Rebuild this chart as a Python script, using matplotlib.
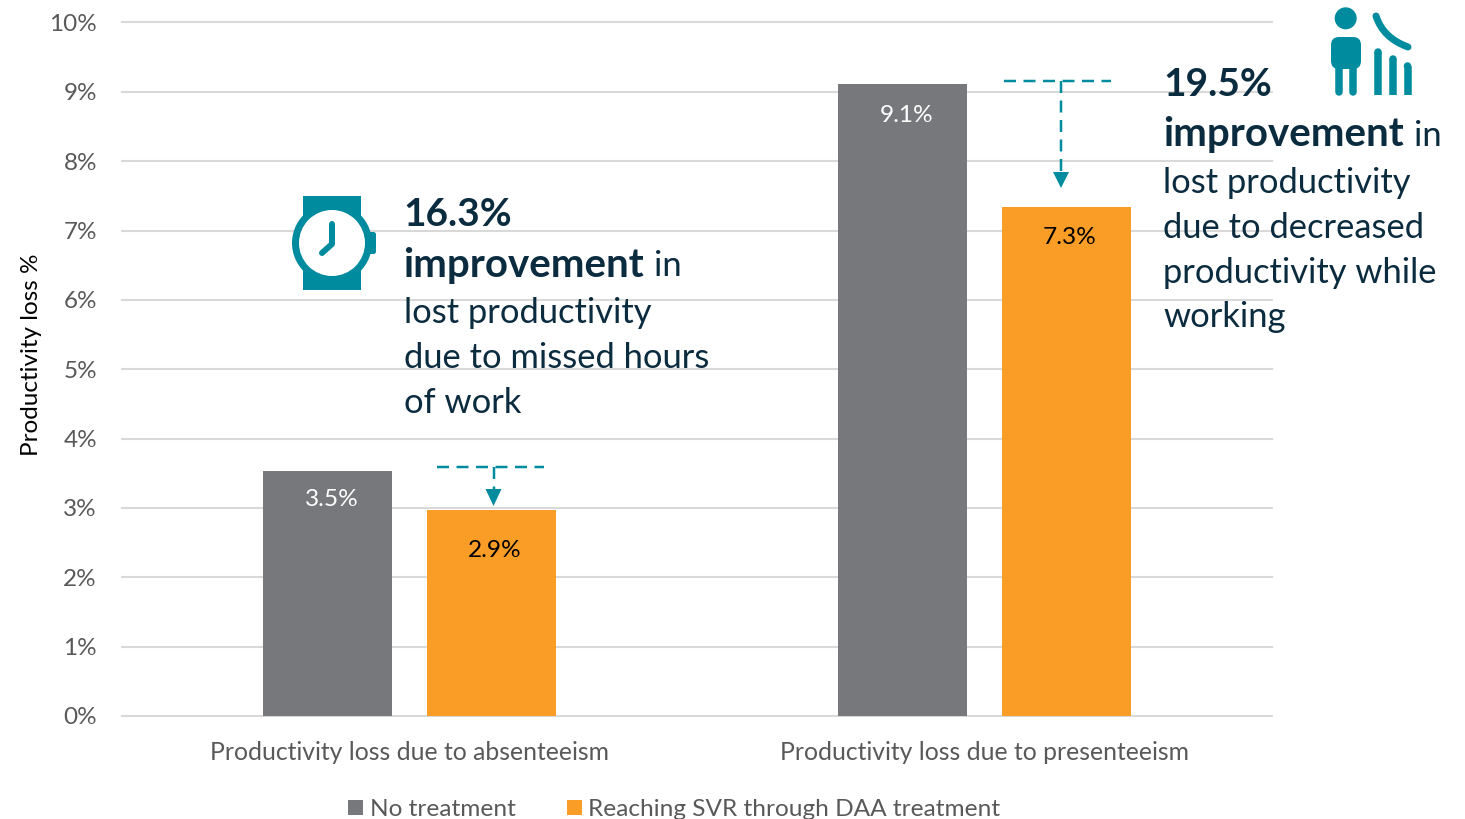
import matplotlib
matplotlib.use("Agg")
import matplotlib.pyplot as plt
import numpy as np
from matplotlib.patches import Circle, Rectangle, FancyBboxPatch, PathPatch, Polygon
from matplotlib.path import Path

# ---- data ----
categories = ["Productivity loss due to absenteeism", "Productivity loss due to presenteeism"]
series_names = ["No treatment", "Reaching SVR through DAA treatment"]
no_treatment = [3.53, 9.12]
svr_treatment = [2.97, 7.34]
no_treatment_labels = ["3.5%", "9.1%"]
svr_treatment_labels = ["2.9%", "7.3%"]
y_ticks = list(range(0, 11))
y_tick_labels = [f"{v}%" for v in y_ticks]
y_title = "Productivity loss %"

GREY, ORANGE, TEAL, INK = "#77787B", "#F99D26", "#008C9E", "#0B2B3F"
plt.rcParams["font.family"] = ["Lato", "DejaVu Sans"]

W, H = 1465, 819
fig = plt.figure(figsize=(W / 100, H / 100), dpi=100)
ax = fig.add_axes([122 / W, (H - 716) / H, 1150 / W, 693.5 / H])

x = np.arange(len(categories))
bar_w, off = 0.2243, 0.1426
b1 = ax.bar(x - off, no_treatment, bar_w, color=GREY, zorder=3, label=series_names[0])
b2 = ax.bar(x + off, svr_treatment, bar_w, color=ORANGE, zorder=3, label=series_names[1])
ax.set_xlim(-0.5, 1.5)
ax.set_ylim(0, 10)
ax.set_yticks(y_ticks, y_tick_labels, fontsize=17.5, color="#595959")
ax.set_xticks(x, categories, fontsize=17.8, color="#595959")
ax.tick_params(axis="y", length=0, pad=18)
ax.tick_params(axis="x", length=0, pad=18)
ax.grid(axis="y", color="#D9D9D9", lw=1.5, zorder=0)
ax.set_axisbelow(True)
for s in ax.spines.values():
    s.set_visible(False)
for g in ax.get_ygridlines():
    g.set_clip_on(False)
ax.set_ylabel(y_title, fontsize=17.5, color="black")
ax.yaxis.set_label_coords((42 - 122) / 1150, (716 - 355) / 693.5)

for rect, lab, dy in zip(b1, no_treatment_labels, (20.2, 23)):
    ax.annotate(lab, (rect.get_x() + rect.get_width() / 2 + 0.007, rect.get_height()),
                xytext=(0, -dy), textcoords="offset points", ha="center", va="center",
                fontsize=17.6, color="white", zorder=5)
for rect, lab, dy in zip(b2, svr_treatment_labels, (28.8, 22.3)):
    ax.annotate(lab, (rect.get_x() + rect.get_width() / 2 + 0.005, rect.get_height()),
                xytext=(0, -dy), textcoords="offset points", ha="center", va="center",
                fontsize=17.6, color="black", zorder=5)

fig.legend(handles=[b1, b2], labels=series_names, loc="lower left",
           bbox_to_anchor=(348 / W, -1 / H), ncol=2, frameon=False, fontsize=17.6,
           handlelength=0.61, handleheight=0.61, handletextpad=0.27, columnspacing=2.1,
           borderpad=0, borderaxespad=0, labelcolor="#595959")

# ---- overlay in pixel coordinates for callouts ----
ov = fig.add_axes([0, 0, 1, 1], zorder=10)
ov.set_xlim(0, W)
ov.set_ylim(H, 0)
ov.axis("off")
px = 0.72

def t(xp, yp, s, size, bold=False):
    ov.text(xp, yp, s, fontsize=size, color=INK, va="baseline", ha="left",
            fontweight="bold" if bold else "normal")

BIG, BIGB, REG = 28, 29, 24.8
t(403.5, 225.5, "16.3%", BIG, True)
t(403.5, 277, "improvement", BIGB, True)
t(654.5, 276.5, "in", REG)
t(403.5, 323, "lost productivity", REG)
t(403.5, 368, "due to missed hours", REG)
t(403.5, 413, "of work", REG)

t(1163, 95.5, "19.5%", BIG, True)
t(1163, 146, "improvement", BIGB, True)
t(1414, 146, "in", REG)
t(1163, 193, "lost productivity", REG)
t(1163, 238, "due to decreased", REG)
t(1163, 283, "productivity while", REG)
t(1163, 327, "working", REG)

# dashed arrows
def callout(x0, x1, y, xc, y_head, y_tip):
    dash = (0, (12 / 2.5, 7.5 / 2.5))
    ov.plot([x0, x1], [y, y], color=TEAL, lw=2.5 * px, ls=dash, dash_capstyle="butt")
    ov.plot([xc, xc], [y, y_head], color=TEAL, lw=2.5 * px, ls=dash, dash_capstyle="butt")
    ov.add_patch(Polygon([(xc - 8, y_head), (xc + 8, y_head), (xc, y_tip)], closed=True,
                         fc=TEAL, ec="none"))

callout(437, 544, 466.5, 493.5, 489, 506)
callout(1004, 1111, 81, 1061, 172, 188)

# watch icon
ov.add_patch(Rectangle((303, 196), 58, 94, fc=TEAL, ec="none"))
ov.add_patch(FancyBboxPatch((364, 233), 9, 20, boxstyle="round,pad=0,rounding_size=3", fc=TEAL, ec="none"))
ov.add_patch(FancyBboxPatch((368, 232), 8, 22, boxstyle="round,pad=0,rounding_size=2.5", fc=TEAL, ec="none"))
ov.add_patch(Circle((332, 243), 40, fc=TEAL, ec="none"))
ov.add_patch(Circle((332, 243), 33, fc="white", ec="none"))
ov.plot([332, 332, 322], [224, 244, 253], color=TEAL, lw=6 * px,
        solid_capstyle="round", solid_joinstyle="round")

# person icon
ov.add_patch(Circle((1345.7, 18.3), 11, fc=TEAL, ec="none"))
ov.add_patch(FancyBboxPatch((1331, 37), 30, 32, boxstyle="round,pad=0,rounding_size=8", fc=TEAL, ec="none"))
for x0, x1 in [(1335, 1342.5), (1349.5, 1357)]:
    ov.plot([(x0 + x1) / 2, (x0 + x1) / 2], [62, 91.5], color=TEAL, lw=7.5 * px, solid_capstyle="round")
for xc, ytop in [(1378, 52), (1393, 59), (1407.5, 66)]:
    ov.plot([xc, xc], [ytop, 95], color=TEAL, lw=7.5 * px, solid_capstyle="butt")
    ov.add_patch(Circle((xc, ytop), 3.7, fc=TEAL, ec="none"))
ov.add_patch(PathPatch(Path([(1376, 16), (1383, 38), (1408, 47)],
                            [Path.MOVETO, Path.CURVE3, Path.CURVE3]),
                       fc="none", ec=TEAL, lw=7 * px, capstyle="round"))

fig.savefig("out.png", dpi=100)
